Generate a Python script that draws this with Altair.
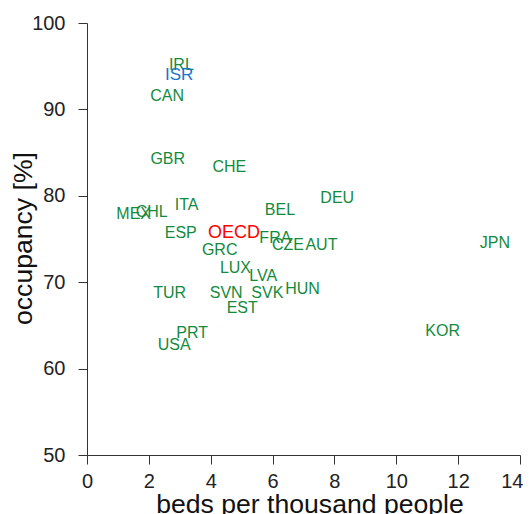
import altair as alt
import pandas as pd

codes = ["IRL", "ISR", "CAN", "GBR", "CHE", "DEU", "BEL", "MEX", "CHL", "ITA",
         "ESP", "OECD", "FRA", "CZE", "AUT", "GRC", "JPN", "LUX", "LVA", "HUN",
         "TUR", "SVN", "SVK", "EST", "PRT", "USA", "KOR"]
beds = [3.05, 2.98, 2.59, 2.61, 4.6, 8.09, 6.24, 1.51, 2.09, 3.22,
        3.03, 4.75, 6.09, 6.5, 7.58, 4.29, 13.19, 4.8, 5.7, 6.97,
        2.67, 4.5, 5.83, 5.02, 3.4, 2.82, 11.5]
occupancy = [95.1, 94.0, 91.55, 84.3, 83.3, 79.8, 78.36, 77.95, 78.1, 78.9,
             75.75, 75.75, 75.06, 74.3, 74.36, 73.73, 74.5, 71.6, 70.66, 69.27,
             68.8, 68.8, 68.75, 67.0, 64.1, 62.7, 64.4]
kinds = ["country", "highlight", "country", "country", "country", "country", "country",
         "country", "country", "country", "country", "oecd", "country", "country",
         "country", "country", "country", "country", "country", "country", "country",
         "country", "country", "country", "country", "country", "country"]
x_ticks = [0, 2, 4, 6, 8, 10, 12, 14]
y_ticks = [50, 60, 70, 80, 90, 100]

df = pd.DataFrame({"code": codes, "beds": beds, "occ": occupancy, "kind": kinds})

chart = alt.Chart(df).mark_text(font="Liberation Sans", align="center", baseline="middle").encode(
    x=alt.X("beds:Q", scale=alt.Scale(domain=[0, 14], nice=False, zero=False),
            axis=alt.Axis(values=x_ticks, title="beds per thousand people",
                          labelPadding=7,
                          labelAlign={"condition": {"test": "datum.value == 14", "value": "right"},
                                      "value": "center"},
                          labelOffset={"condition": {"test": "datum.value == 14", "value": 3},
                                       "value": 0},
                          titleX=222.5, titleY=57.5, titleBaseline="alphabetic", titleAlign="center")),
    y=alt.Y("occ:Q", scale=alt.Scale(domain=[50, 100], nice=False, zero=False),
            axis=alt.Axis(values=y_ticks, title="occupancy [%]", labelPadding=13,
                          titleX=-63.5, titleY=215, titleBaseline="middle", titleAlign="center",
                          titleAngle=270)),
    text="code:N",
    color=alt.Color("kind:N", scale=alt.Scale(domain=["country", "highlight", "oecd"],
                                              range=["#138a3c", "#1a72cc", "#ff0000"]), legend=None),
    size=alt.Size("kind:N", scale=alt.Scale(domain=["country", "highlight", "oecd"],
                                            range=[16, 18, 18]), legend=None),
).properties(
    width=433, height=432,
    autosize=alt.AutoSizeParams(type="none"),
    padding={"left": 79, "top": 15, "right": 3, "bottom": 60},
).configure_view(stroke=None).configure_axis(
    grid=False, domainColor="#333333", tickColor="#333333", tickSize=9,
    labelFont="Liberation Sans", labelFontSize=20, labelColor="#222222",
    titleFont="Liberation Sans", titleFontSize=26.6, titleFontWeight="normal", titleColor="#111111",
    labelFlush=False, labelOverlap=False,
)

chart.save("out.html", embed_options={"renderer": "svg", "actions": False})
